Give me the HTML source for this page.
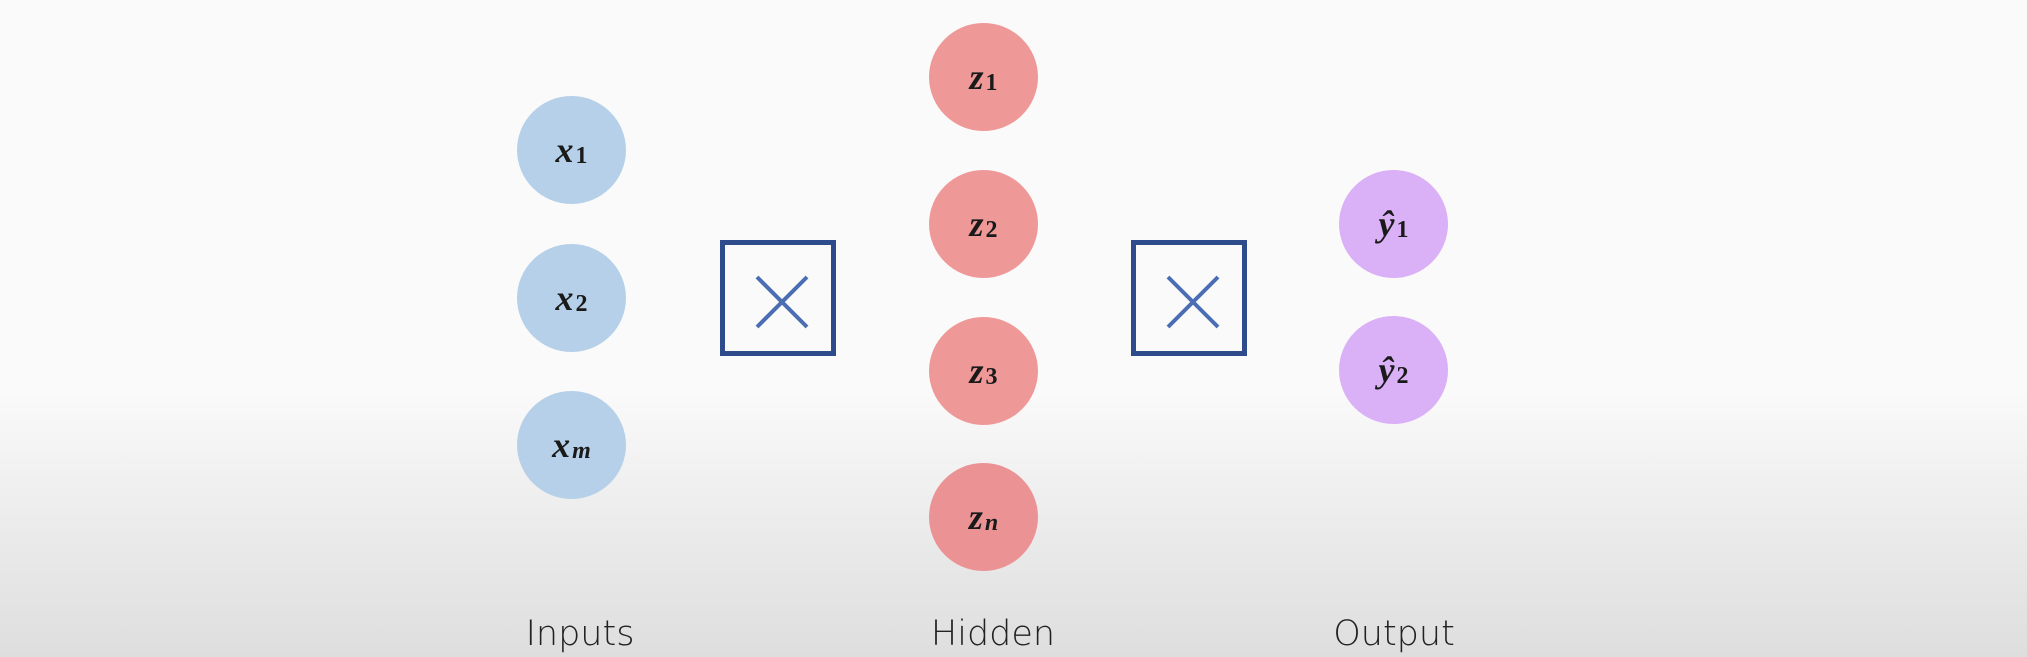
<!DOCTYPE html>
<html><head><meta charset="utf-8"><style>
html,body{margin:0;padding:0}
body{width:2027px;height:657px;overflow:hidden;background:linear-gradient(to bottom,#fafafa 0px,#fafafa 390px,#ececec 520px,#dedede 657px);position:relative;font-family:"Liberation Sans",sans-serif}
.n{position:absolute;width:109px;height:108px;border-radius:50%;display:flex;align-items:center;justify-content:center;font-family:"Liberation Serif","DejaVu Serif",serif;font-style:italic;font-weight:bold;font-size:36px;color:#1a1a1a}
.n sub{font-style:normal;font-size:24px;position:relative;top:6px;margin-left:2px}
.n sub.i{font-style:italic}
.in{background:#b5d0e8}.hid{background:#ef9898}.out{background:#dab0f6}
.box{position:absolute;width:106px;height:106px;border:5px solid #2e4b8c}
.lab{position:absolute;top:614px;font-size:35px;color:#222;transform:translateX(-50%);font-family:"DejaVu Sans","Liberation Sans",sans-serif;font-weight:300}
</style></head><body>
<div class="n in" style="left:517px;top:96px">x<sub>1</sub></div>
<div class="n in" style="left:517px;top:244px">x<sub>2</sub></div>
<div class="n in" style="left:517px;top:391px">x<sub class="i">m</sub></div>
<div class="n hid" style="left:929px;top:23px">z<sub>1</sub></div>
<div class="n hid" style="left:929px;top:170px">z<sub>2</sub></div>
<div class="n hid" style="left:929px;top:317px">z<sub>3</sub></div>
<div class="n hid" style="left:929px;top:463px;background:#eb9294">z<sub class="i">n</sub></div>
<div class="n out" style="left:1339px;top:170px">ŷ<sub>1</sub></div>
<div class="n out" style="left:1339px;top:316px">ŷ<sub>2</sub></div>
<div class="box" style="left:720px;top:240px"><svg width="106" height="106"><path d="M32 32L82 82M82 32L32 82" stroke="#4a6db3" stroke-width="4"/></svg></div>
<div class="box" style="left:1131px;top:240px"><svg width="106" height="106"><path d="M32 32L82 82M82 32L32 82" stroke="#4a6db3" stroke-width="4"/></svg></div>
<div class="lab" style="left:580px">Inputs</div>
<div class="lab" style="left:993px">Hidden</div>
<div class="lab" style="left:1394px">Output</div>
</body></html>
